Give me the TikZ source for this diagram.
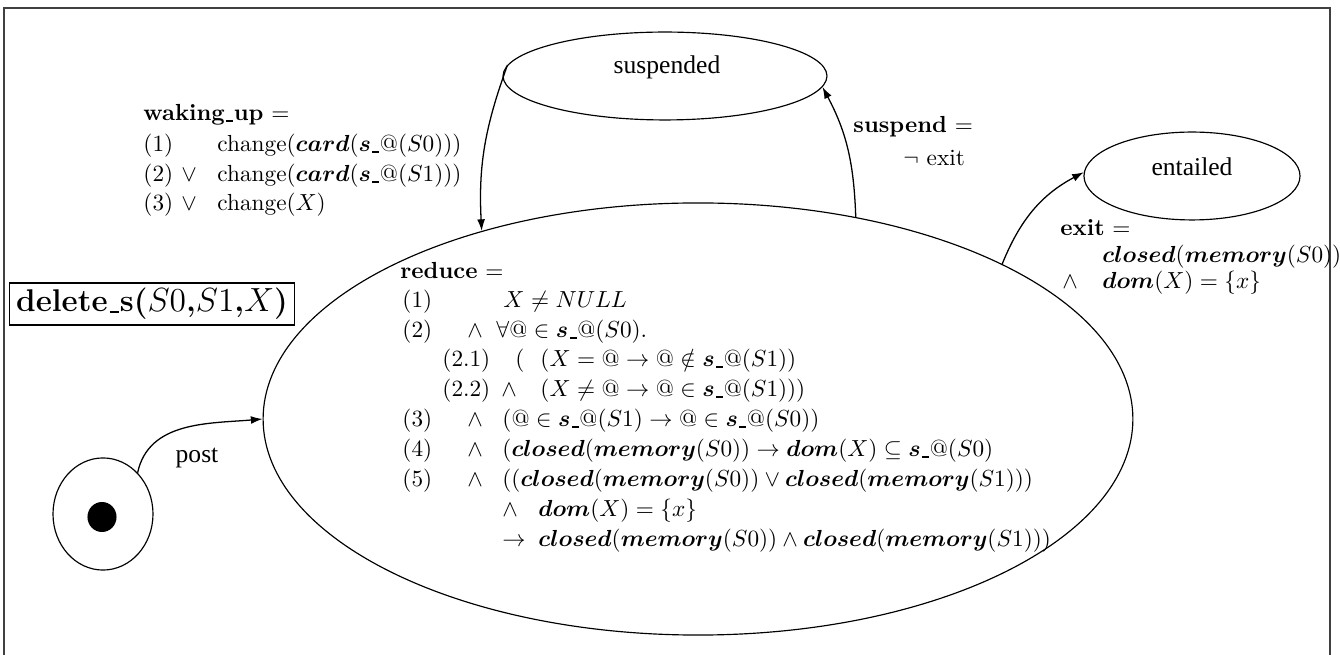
\documentclass[tikz,border=0pt]{standalone}
\usepackage{amsmath}
\usepackage{fontspec}
\newfontfamily\tmsfont{Liberation Serif}
\usetikzlibrary{shapes.geometric,arrows.meta}

\newcommand{\Usc}{\mbox{\kern.06em\rule[-0.5pt]{.3em}{0.75pt}\kern.03em}}
\newcommand{\Bsy}[1]{\boldsymbol{#1}}
\newcommand{\Sat}{\Bsy{s}\Usc @}
\newcommand{\Clo}{\Bsy{closed}}
\newcommand{\Mem}{\Bsy{memory}}
\newcommand{\Dom}{\Bsy{dom}}
\newcommand{\Crd}{\Bsy{card}}

\begin{document}
\begin{tikzpicture}[x=0.43pt,y=-0.43pt,
  state/.style={draw, ellipse, inner sep=0pt, line width=0.5pt},
  arr/.style={-{Latex[length=5pt,width=3.4pt]}, line width=0.55pt},
  txt/.style={anchor=base west, inner sep=0pt},
  nm/.style={font=\tmsfont\fontsize{11}{13}\selectfont, inner sep=0pt},
  frame/.style={draw=black!75, line width=1.1pt}]
\useasboundingbox (0,0) rectangle (1340,655);
\draw[frame] (4,655) -- (4,8) -- (1330,8) -- (1330,655);

% states
\node[state, minimum width=374pt, minimum height=185.8pt] (big) at (698,419) {};
\node[state, minimum width=139.3pt, minimum height=37.8pt] (susp) at (665,76) {};
\node[nm] (suspt) at (667,67) {suspended};
\node[state, minimum width=92.9pt, minimum height=37.8pt] (ent) at (1192,176) {};
\node[nm] (entt) at (1192,167) {entailed};
\node[state, minimum width=43pt, minimum height=48.2pt] (init) at (103,514) {};
\node[fill, ellipse, minimum width=12.5pt, minimum height=12.9pt, inner sep=0pt] (dot) at (102,517) {};

% title box
\node[draw, line width=0.5pt, inner sep=0pt, minimum width=122.5pt, minimum height=18pt,
      font=\bfseries\fontsize{13.5}{16}\selectfont] (title) at (152,304) {delete\Usc s($S0$,$S1$,$X$)};

% connectors
\draw[arr] (init.50) to[out=78,in=185] (big.180);
\node[nm] (postl) at (197,458) {post};
\draw[arr] (susp.176) to[out=250,in=93] (big.139);
\draw[arr] (big.52) to[out=92,in=-62] (susp.-4);
\draw[arr] (big.27) to[out=68,in=208] (ent.178);

% waking_up
\node[txt] (w0) at (143,121) {\textbf{waking\Usc up} $=$};
\node[txt] (w1a) at (143,152) {(1)};
\node[txt] (w1b) at (217,152) {change$(\Crd(\Sat(S0)))$};
\node[txt] (w2a) at (143,182) {(2)};
\node[txt] (w2v) at (181,182) {$\vee$};
\node[txt] (w2b) at (217,182) {change$(\Crd(\Sat(S1)))$};
\node[txt] (w3a) at (143,211) {(3)};
\node[txt] (w3v) at (181,211) {$\vee$};
\node[txt] (w3b) at (217,211) {change$(X)$};

% suspend
\node[txt] (s0) at (853,133) {\textbf{suspend} $=$};
\node[txt] (s1) at (903,166) {$\neg$ exit};

% exit
\node[txt] (e0) at (1060,236) {\textbf{exit} $=$};
\node[txt] (e1) at (1102,263) {$\Clo(\Mem(S0))$};
\node[txt] (e2a) at (1062,289) {$\wedge$};
\node[txt] (e2b) at (1102,289) {$\Dom(X) = \{x\}$};

% reduce
\node[txt] (r0) at (400,279) {\textbf{reduce} $=$};
\node[txt] (r1a) at (402,308) {(1)};
\node[txt] (r1b) at (503,308) {$X \neq NULL$};
\node[txt] (r2a) at (402,338) {(2)};
\node[txt] (r2w) at (467,338) {$\wedge$};
\node[txt] (r2b) at (496,338) {$\forall @ \in \Sat(S0).$};
\node[txt] (r21a) at (442,367) {(2.1)};
\node[txt] (r21p) at (515,367) {$($};
\node[txt] (r21b) at (540,367) {$(X = @ \rightarrow @ \notin \Sat(S1))$};
\node[txt] (r22a) at (442,397) {(2.2)};
\node[txt] (r22w) at (501,397) {$\wedge$};
\node[txt] (r22b) at (540,397) {$(X \neq @ \rightarrow @ \in \Sat(S1)))$};
\node[txt] (r3a) at (402,427) {(3)};
\node[txt] (r3w) at (467,427) {$\wedge$};
\node[txt] (r3b) at (502,427) {$(@ \in \Sat(S1) \rightarrow @ \in \Sat(S0))$};
\node[txt] (r4a) at (402,457) {(4)};
\node[txt] (r4w) at (467,457) {$\wedge$};
\node[txt] (r4b) at (502,457) {$(\Clo(\Mem(S0)) \rightarrow \Dom(X) \subseteq \Sat(S0)$};
\node[txt] (r5a) at (402,487) {(5)};
\node[txt] (r5w) at (467,487) {$\wedge$};
\node[txt] (r5b) at (502,487) {$((\Clo(\Mem(S0)) \vee \Clo(\Mem(S1)))$};
\node[txt] (r6w) at (502,517) {$\wedge$};
\node[txt] (r6b) at (538,517) {$\Dom(X) = \{x\}$};
\node[txt] (r7w) at (502,547) {$\rightarrow$};
\node[txt] (r7b) at (538,547) {$\Clo(\Mem(S0)) \wedge \Clo(\Mem(S1)))$};
\end{tikzpicture}
\end{document}
